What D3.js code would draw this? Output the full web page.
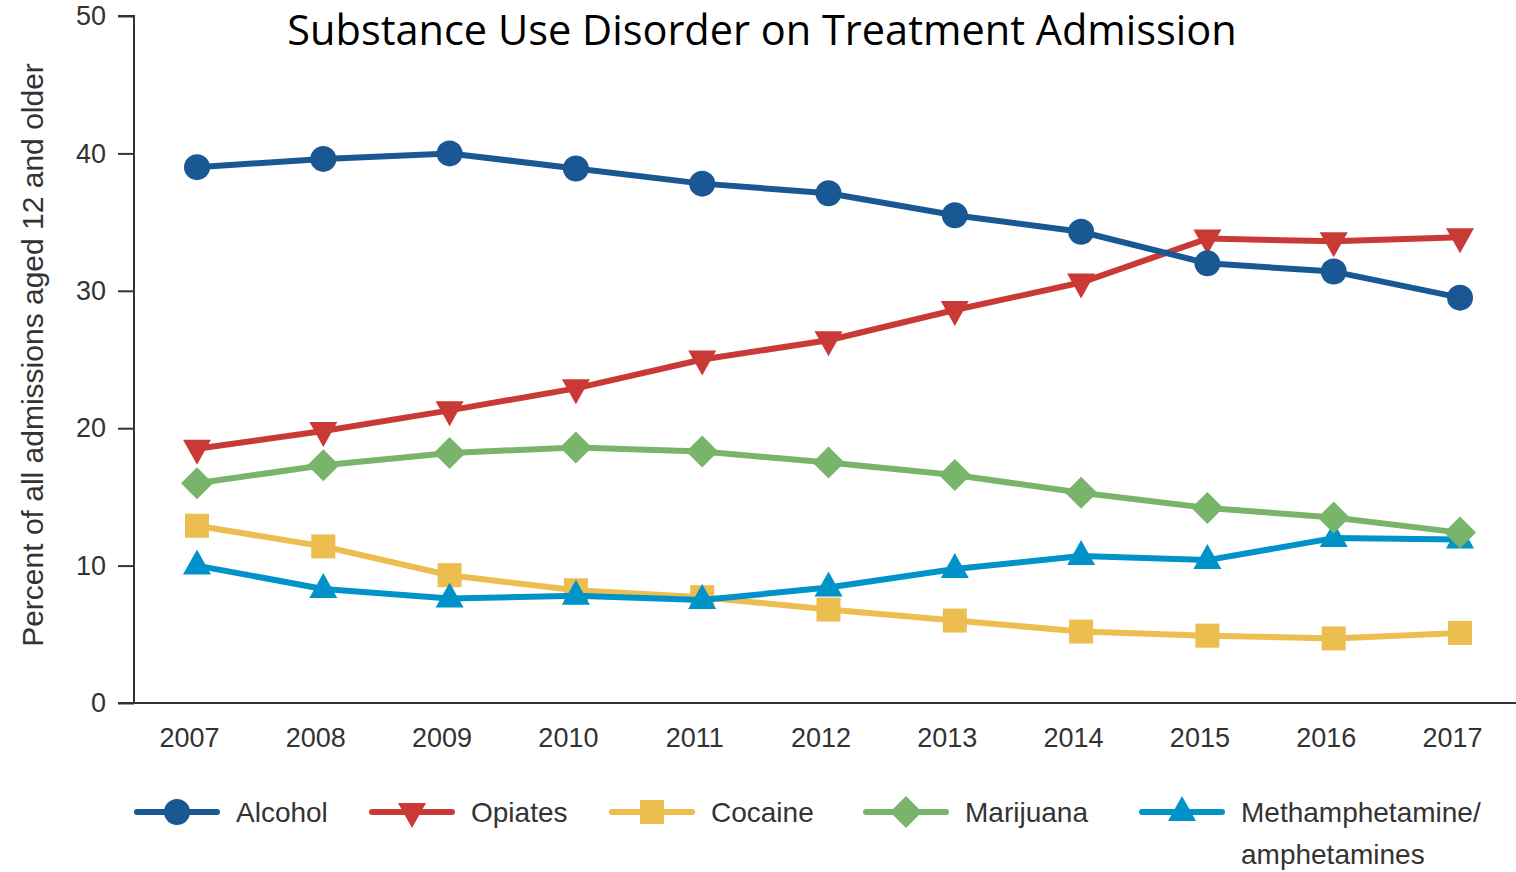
<!DOCTYPE html>
<html><head><meta charset="utf-8">
<script src="https://cdn.jsdelivr.net/npm/d3@7"></script>
<style>body{margin:0;background:#fff}svg{display:block}</style>
</head><body>
<svg id="chart" width="1516" height="872"></svg>
<script>
const years = [2007,2008,2009,2010,2011,2012,2013,2014,2015,2016,2017];
const alcohol = [39.0,39.6,40.0,38.9,37.8,37.1,35.5,34.3,32.0,31.4,29.5];
const opiates = [18.5,19.8,21.3,22.9,25.0,26.4,28.6,30.6,33.8,33.6,33.9];
const cocaine = [12.9,11.4,9.3,8.2,7.7,6.8,6.0,5.2,4.9,4.7,5.1];
const marijuana = [16.0,17.3,18.2,18.6,18.3,17.5,16.6,15.3,14.2,13.5,12.4];
const meth = [10.0,8.3,7.6,7.8,7.5,8.4,9.75,10.7,10.4,12.0,11.9];
const seriesNames = ["Alcohol","Opiates","Cocaine","Marijuana","Methamphetamine/|amphetamines"];
const yTicks = [0,10,20,30,40,50];

const colors = ["#1a5894","#c93a36","#ecbd4f","#79b46b","#0093c9"];
const shapes = ["circle","triDown","square","diamond","triUp"];
const data = [alcohol, opiates, cocaine, marijuana, meth];

const svg = d3.select("#chart");
const x = d3.scaleLinear().domain([2007,2017]).range([197,1460]);
const y = d3.scaleLinear().domain([0,50]).range([703,16]);

// axes
const yAxis = d3.axisLeft(y).tickValues(yTicks).tickSize(16).tickPadding(12);
const gy = svg.append("g").attr("transform","translate(134,0)").call(yAxis);
gy.select(".domain").attr("stroke","#333").attr("stroke-width",2).attr("d","M-16,16H0V703");
gy.selectAll(".tick line").attr("stroke","#333").attr("stroke-width",2);
gy.selectAll("text").attr("font-family","Liberation Sans, Arial, sans-serif").attr("font-size",27).attr("fill","#333");

svg.append("line").attr("x1",118).attr("x2",1516).attr("y1",703).attr("y2",703).attr("stroke","#333").attr("stroke-width",2);

const xAxis = d3.axisBottom(x).tickValues(years).tickFormat(d3.format("d")).tickSize(0).tickPadding(25);
const gx = svg.append("g").attr("transform","translate(-8,703)").call(xAxis);
gx.select(".domain").remove();
gx.selectAll("text").attr("font-family","Liberation Sans, Arial, sans-serif").attr("font-size",27).attr("fill","#333");

// y label
svg.append("text").attr("transform","translate(43,355) rotate(-90)").attr("text-anchor","middle")
  .attr("font-family","Liberation Sans, Arial, sans-serif").attr("font-size",30).attr("fill","#333")
  .text("Percent of all admissions aged 12 and older");

// title
svg.append("text").attr("x",762).attr("y",45).attr("text-anchor","middle")
  .attr("font-family","Open Sans, sans-serif").attr("font-size",41.5).attr("fill","#000")
  .text("Substance Use Disorder on Treatment Admission");

function marker(g, shape, cx, cy, color){
  if(shape==="circle") g.append("circle").attr("cx",cx).attr("cy",cy).attr("r",13).attr("fill",color);
  else if(shape==="square") g.append("rect").attr("x",cx-12).attr("y",cy-12).attr("width",24).attr("height",24).attr("fill",color);
  else if(shape==="diamond") g.append("path").attr("d",`M${cx},${cy-16}L${cx+16},${cy}L${cx},${cy+16}L${cx-16},${cy}Z`).attr("fill",color);
  else if(shape==="triDown") g.append("path").attr("d",`M${cx-14},${cy-9}L${cx+14},${cy-9}L${cx},${cy+16}Z`).attr("fill",color);
  else if(shape==="triUp") g.append("path").attr("d",`M${cx-14},${cy+9}L${cx+14},${cy+9}L${cx},${cy-16}Z`).attr("fill",color);
}

const line = d3.line().x((d,i)=>x(years[i])).y(d=>y(d));
const order = [2,4,3,1,0];
order.forEach(k=>{
  const g = svg.append("g");
  g.append("path").datum(data[k]).attr("d",line).attr("fill","none").attr("stroke",colors[k]).attr("stroke-width",6).attr("stroke-linejoin","round");
  data[k].forEach((v,i)=>marker(g, shapes[k], x(years[i]), y(v), colors[k]));
});

// legend
const legX = [137,372,612,866,1142];
const legend = svg.append("g");
seriesNames.forEach((name,k)=>{
  const lx = legX[k], ly = 812;
  legend.append("line").attr("x1",lx).attr("x2",lx+80).attr("y1",ly).attr("y2",ly)
    .attr("stroke",colors[k]).attr("stroke-width",6).attr("stroke-linecap","round");
  marker(legend, shapes[k], lx+40, ly, colors[k]);
  const parts = name.split("|");
  const t = legend.append("text").attr("y",ly+10)
    .attr("font-family","Liberation Sans, Arial, sans-serif").attr("font-size",28).attr("fill","#333");
  parts.forEach((p,j)=>t.append("tspan").attr("x",lx+99).attr("dy",j===0?0:42).text(p));
});
</script>
</body></html>
